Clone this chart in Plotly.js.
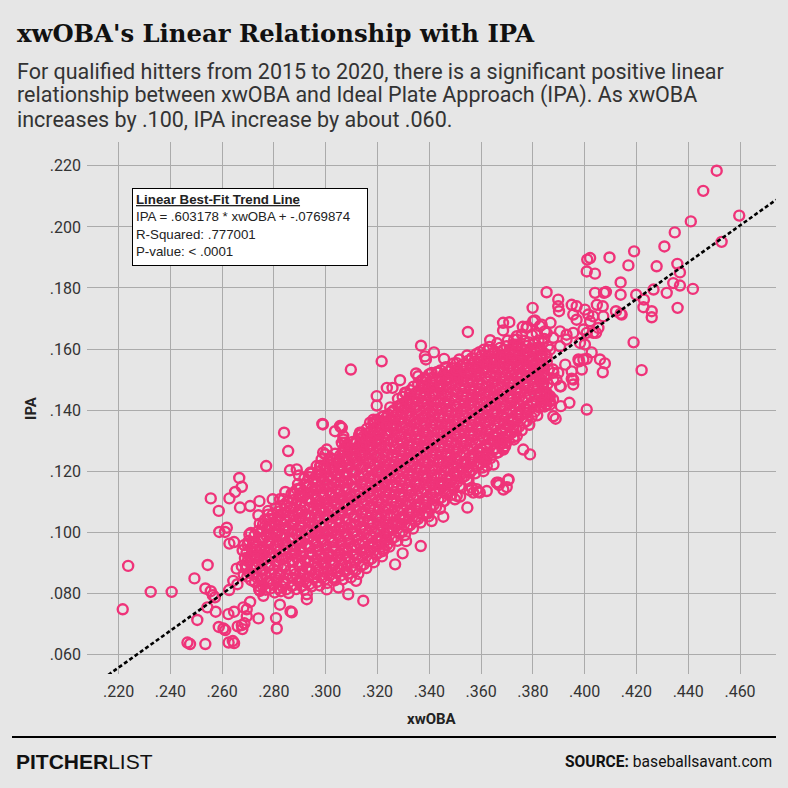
<!DOCTYPE html>
<html><head><meta charset="utf-8">
<script src="https://cdn.plot.ly/plotly-3.0.1.min.js"></script>
<style>html,body{margin:0;padding:0;background:#e6e6e6;}#chart{width:788px;height:788px;}</style>
</head><body><div id="chart"></div>
<script>
const titleText = "xwOBA's Linear Relationship with IPA";
const subtitleLines = [
  "For qualified hitters from 2015 to 2020, there is a significant positive linear",
  "relationship between xwOBA and Ideal Plate Approach (IPA). As xwOBA",
  "increases by .100, IPA increase by about .060."
];
const xTicks = [.22,.24,.26,.28,.30,.32,.34,.36,.38,.40,.42,.44,.46];
const yTicks = [.06,.08,.10,.12,.14,.16,.18,.20,.22];
const xRange = [.2078,.4739];
const yRange = [.0536,.2278];
const fitSlope = .603178;
const fitIntercept = -.0769874;
const boxLines = ["IPA = .603178 * xwOBA + -.0769874","R-Squared: .777001","P-value: &lt; .0001"];

// [xwOBA, IPA] per hitter-season (outer points)
const hitters = [
[.2237,.0890],[.2216,.0748],[.2324,.0805],[.2405,.0805],[.2493,.0849],[.2544,.0893],[.2535,.0816],[.2556,.0807],[.2564,.0794],[.2572,.0787],
[.2543,.0754],[.2575,.0740],[.2504,.0713],[.2466,.0639],[.2476,.0634],[.2535,.0634],[.2587,.0690],[.2605,.0685],[.2612,.0680],[.2625,.0639],
[.2641,.0644],[.2646,.0637],[.2624,.0732],[.2646,.0740],[.2660,.0692],[.2676,.0696],[.2686,.0702],[.2678,.0683],[.2682,.0754],[.2695,.0748],
[.2708,.0772],[.2695,.0725],[.2740,.0718],[.2808,.0719],[.2811,.0685],[.2864,.0741],[.2823,.0763],[.2656,.0881],[.2691,.0892],[.2643,.0841],
[.2659,.0830],[.2627,.0811],[.2589,.1001],[.2611,.1001],[.2618,.1015],[.2628,.0963],[.2646,.0968],[.2705,.0993],[.2720,.0964],[.2724,.0922],
[.2743,.0813],[.2746,.0808],[.2927,.0797],[.2927,.0781],[.2556,.1111],[.2587,.1070],[.2628,.1111],[.2650,.1132],[.2666,.1178],[.2676,.1149],
[.2669,.1081],[.2708,.1086],[.2744,.1102],[.2778,.1070],[.2795,.1108],[.2740,.1056],[.2770,.1217],[.2839,.1326],[.2855,.1266],[.2844,.1132],
[.2862,.1203],[.2888,.1206],[.2897,.1186],[.2987,.1355],[.3036,.1331],[.3059,.1344],[.3068,.1304],[.3197,.1415],[.2731,.0966],[.3145,.0776],
[.3087,.0797],[.3229,.0971],[.3222,.0939],[.3268,.0895],[.3117,.0841],[.3049,.0819],[.3004,.0813],[.2869,.0738],[.3097,.1533],[.3216,.1560],
[.3549,.1656],[.3368,.1611],[.3383,.1576],[.3418,.1589],[.3457,.1568],[.3635,.1629],[.3685,.1686],[.3709,.1688],[.3685,.1661],[.3799,.1735],
[.3853,.1786],[.3761,.1673],[.3778,.1673],[.3801,.1691],[.3827,.1675],[.3846,.1658],[.3868,.1686],[.3197,.1446],[.3258,.1473],[.3287,.1498],
[.3349,.1520],[.3388,.1500],[.3409,.1522],[.3480,.1506],[.3499,.1511],[.3521,.1517],[.3551,.1520],[.3622,.1560],[.3650,.1566],[.3673,.1566],
[.3699,.1582],[.3725,.1615],[.3738,.1631],[.3725,.1566],[.3757,.1566],[.3776,.1544],[.3794,.1560],[.3813,.1527],[.3839,.1489],[.3853,.1451],
[.3866,.1418],[.3827,.1413],[.3866,.1446],[.3879,.1380],[.3725,.1337],[.3738,.1315],[.3763,.1271],[.3789,.1255],[.3673,.1304],[.3693,.1282],
[.3686,.1271],[.3622,.1217],[.3648,.1222],[.3609,.1200],[.3667,.1162],[.3706,.1173],[.3583,.1141],[.3622,.1135],[.3570,.1130],[.3506,.1119],
[.3564,.1146],[.3609,.1239],[.3583,.1217],[.3564,.1239],[.3506,.1239],[.3467,.1228],[.3493,.1195],[.3055,.1348],[.3068,.1315],[.3062,.1293],
[.4010,.1893],[.4021,.1898],[.4008,.1854],[.4040,.1847],[.3898,.1762],[.3898,.1740],[.3901,.1724],[.3950,.1745],[.3969,.1740],[.3956,.1713],
[.3969,.1696],[.4001,.1729],[.4014,.1713],[.4033,.1707],[.4021,.1691],[.4040,.1784],[.4047,.1745],[.3738,.1642],[.3776,.1669],[.3808,.1694],
[.3834,.1680],[.3853,.1653],[.3879,.1637],[.3905,.1658],[.3930,.1647],[.3956,.1653],[.3995,.1664],[.4033,.1653],[.3982,.1620],[.4510,.2184],
[.4458,.2118],[.4597,.2037],[.4410,.2018],[.4529,.1951],[.4348,.1982],[.4308,.1936],[.4191,.1920],[.4096,.1900],[.4169,.1874],[.4278,.1871],
[.4358,.1879],[.4368,.1851],[.4139,.1818],[.4266,.1795],[.4317,.1784],[.4342,.1816],[.4368,.1808],[.4418,.1797],[.4359,.1735],[.4199,.1778],
[.4229,.1762],[.4227,.1737],[.4259,.1724],[.4259,.1704],[.4139,.1778],[.4139,.1716],[.4075,.1784],[.4082,.1787],[.4070,.1740],[.4072,.1707],
[.4121,.1724],[.4143,.1713],[.4053,.1669],[.4189,.1622],[.4220,.1531],[.4001,.1615],[.4027,.1589],[.4059,.1566],[.4078,.1553],[.4070,.1524],
[.3950,.1527],[.3956,.1500],[.3989,.1533],[.3976,.1566],[.3995,.1566],[.3930,.1631],[.3905,.1609],[.3866,.1598],[.3840,.1544],[.3879,.1522],
[.3905,.1478],[.3297,.0931],[.3310,.0971],[.3367,.0955],[.3233,.0975],[.3409,.1037],[.3454,.1051],[.3547,.1081],[.3499,.1108],[.3519,.1117],
[.3525,.1146],[.3555,.1138],[.3587,.1132],[.3551,.1168],[.3557,.1195],[.3669,.1155],[.3699,.1148],[.3705,.1171],[.3619,.1236],[.3686,.1277],
[.3673,.1291],[.3727,.1304],[.3325,.1026],[.3280,.1026],[.3242,.1015],[.3351,.1051],[.3396,.1062],[.3441,.1077],[.3460,.1135],[.3441,.1162],
[.3454,.1102],[.3506,.1184],[.3551,.1211],[.3596,.1244],[.3622,.1277],[.4008,.1402],[.3888,.1372],[.3941,.1424],[.3908,.1413],[.3853,.1418],
[.3860,.1440],[.3866,.1429],[.3908,.1478],[.3956,.1484],[.3950,.1503],[.3840,.1484],[.3879,.1500],[.4008,.1568],[.3979,.1560],[.4044,.1653],
[.4008,.1653],[.3925,.1549],[.3898,.1522],[.3860,.1533],[.3827,.1544],[.2989,.1353],[.3062,.1342],[.3075,.1293],[.2946,.1193],[.3004,.1271],
[.2998,.1255],[.3017,.1244],[.3087,.1277],[.3132,.1326],[.3171,.1359],[.3223,.1380],[.3236,.1473],[.3387,.1566],[.3428,.1524],[.3306,.1457],
[.3325,.1451],[.3312,.1424],[.3280,.1413],[.3293,.1408],[.3241,.1386],[.3184,.1359],[.3139,.1326],[.3357,.1511],[.3370,.1478],[.3396,.1468],
[.3441,.1478],[.3467,.1500],[.3583,.1527],[.3608,.1538],[.3647,.1555],[.3724,.1593],[.3827,.1604],[.3853,.1576],[.3878,.1533],[.3891,.1500],
[.3827,.1500],[.3801,.1544],[.3776,.1587],[.3853,.1457],[.3878,.1435],[.3776,.1391],[.3750,.1413],[.3724,.1369],[.3699,.1315],[.3660,.1260],
[.3660,.1162],[.3686,.1140],[.3595,.1130],[.2990,.1261],[.2984,.1239],[.2965,.1217],[.2939,.1193],[.2952,.1173],[.2978,.1184],[.3016,.1206],
[.3042,.1228],[.3068,.1271],[.3119,.1293],[.3197,.1369],[.3235,.1348],[.3132,.1249],[.3171,.1271],[.3197,.1304],[.2900,.1141],[.2913,.1119],
[.2959,.1141],[.2965,.1108],[.2978,.1217],[.3029,.1239],[.3055,.1217],[.3081,.1239],[.3106,.1271],[.3132,.1282],[.3158,.1315],[.3184,.1326],
[.3209,.1359],[.3261,.1348],[.3184,.1369],[.2823,.1108],[.2849,.1086],[.2875,.1053],[.2823,.1053],[.2785,.1020],[.2766,.1020],[.2759,.0977],
[.2746,.0944],[.2734,.0922],[.2708,.0922],[.2695,.0890],[.2734,.0890],[.2753,.0846],[.2759,.0792]
];

// [xwOBA, IPA] estimates for the overlapping dense core (solid pink area)
const coreHitters = [
[.2683,.0862],[.2676,.0889],[.2688,.0915],[.2679,.0941],[.2685,.0958],
[.2712,.0843],[.2705,.0867],[.2718,.0895],[.2709,.0918],[.2714,.0947],[.2703,.0972],[.2711,.0998],
[.2741,.0824],[.2736,.0851],[.2747,.0876],[.2738,.0903],[.2744,.0925],[.2733,.0952],[.2748,.0979],[.2739,.1004],[.2745,.1028],
[.2768,.0812],[.2776,.0838],[.2765,.0861],[.2779,.0889],[.2771,.0914],[.2763,.0937],[.2777,.0966],[.2769,.0991],[.2774,.1013],[.2766,.1042],[.2778,.1058],
[.2803,.0803],[.2795,.0829],[.2808,.0852],[.2799,.0878],[.2806,.0905],[.2793,.0931],[.2804,.0954],[.2797,.0983],[.2809,.1006],[.2801,.1031],[.2794,.1057],[.2807,.1079],
[.2827,.0807],[.2836,.0834],[.2824,.0859],[.2838,.0886],[.2831,.0911],[.2822,.0938],[.2835,.0962],[.2828,.0987],[.2839,.1013],[.2826,.1036],[.2833,.1062],[.2825,.1085],[.2837,.1108],
[.2857,.0801],[.2866,.0825],[.2853,.0849],[.2864,.0876],[.2858,.0903],[.2869,.0928],[.2852,.0951],[.2861,.0979],[.2855,.1004],[.2867,.1027],[.2859,.1053],[.2863,.1081],[.2854,.1102],[.2868,.1127],
[.2886,.0814],[.2894,.0839],[.2883,.0863],[.2897,.0891],[.2888,.0917],[.2881,.0942],[.2895,.0966],[.2887,.0993],[.2898,.1018],[.2884,.1042],[.2892,.1067],[.2885,.1094],[.2896,.1117],[.2889,.1141],[.2893,.1158],
[.2917,.0812],[.2924,.0836],[.2913,.0861],[.2926,.0884],[.2919,.0909],[.2911,.0935],[.2923,.0961],[.2915,.0984],[.2928,.1009],[.2912,.1035],[.2921,.1058],[.2916,.1083],[.2927,.1109],[.2914,.1132],[.2922,.1156],[.2918,.1177],
[.2946,.0823],[.2955,.0848],[.2943,.0872],[.2957,.0898],[.2949,.0924],[.2941,.0949],[.2954,.0973],[.2947,.0998],[.2958,.1024],[.2944,.1049],[.2952,.1071],[.2945,.1097],[.2956,.1122],[.2948,.1146],[.2953,.1171],[.2942,.1196],
[.2977,.0826],[.2985,.0851],[.2973,.0877],[.2986,.0901],[.2979,.0927],[.2971,.0953],[.2984,.0978],[.2976,.1002],[.2988,.1027],[.2974,.1053],[.2982,.1076],[.2975,.1102],[.2987,.1128],[.2978,.1151],[.2983,.1177],[.2972,.1199],[.2981,.1218],
[.3006,.0834],[.3015,.0859],[.3003,.0884],[.3017,.0908],[.3009,.0932],[.3002,.0958],[.3014,.0983],[.3007,.1007],[.3018,.1031],[.3004,.1056],[.3012,.1082],[.3005,.1107],[.3016,.1131],[.3008,.1155],[.3013,.1181],[.3001,.1205],[.3011,.1232],
[.3037,.0843],[.3045,.0867],[.3033,.0893],[.3046,.0918],[.3039,.0941],[.3031,.0967],[.3044,.0992],[.3036,.1016],[.3048,.1041],[.3034,.1066],[.3042,.1091],[.3035,.1115],[.3047,.1139],[.3038,.1164],[.3043,.1188],[.3032,.1213],[.3041,.1238],[.3036,.1257],
[.3066,.0846],[.3075,.0871],[.3063,.0895],[.3077,.0921],[.3069,.0946],[.3061,.0971],[.3074,.0995],[.3067,.1019],[.3078,.1045],[.3064,.1071],[.3072,.1094],[.3065,.1119],[.3076,.1144],[.3068,.1168],[.3073,.1192],[.3062,.1217],[.3071,.1241],[.3066,.1264],[.3074,.1279],
[.3097,.0852],[.3105,.0878],[.3093,.0903],[.3106,.0927],[.3099,.0952],[.3091,.0977],[.3104,.1003],[.3096,.1027],[.3108,.1051],[.3094,.1076],[.3102,.1101],[.3095,.1125],[.3107,.1149],[.3098,.1174],[.3103,.1198],[.3092,.1223],[.3101,.1247],[.3096,.1271],[.3104,.1296],
[.3126,.0864],[.3135,.0889],[.3123,.0913],[.3137,.0938],[.3129,.0963],[.3121,.0988],[.3134,.1012],[.3127,.1037],[.3138,.1062],[.3124,.1086],[.3132,.1111],[.3125,.1136],[.3136,.1159],[.3128,.1184],[.3133,.1209],[.3122,.1233],[.3131,.1258],[.3126,.1282],[.3134,.1304],[.3129,.1318],
[.3157,.0883],[.3165,.0907],[.3153,.0932],[.3166,.0956],[.3159,.0981],[.3151,.1006],[.3164,.1031],[.3156,.1055],[.3168,.1079],[.3154,.1104],[.3162,.1128],[.3155,.1153],[.3167,.1177],[.3158,.1202],[.3163,.1227],[.3152,.1251],[.3161,.1276],[.3156,.1299],[.3164,.1323],[.3159,.1339],
[.3186,.0902],[.3195,.0927],[.3183,.0951],[.3197,.0976],[.3189,.1001],[.3181,.1025],[.3194,.1049],[.3187,.1074],[.3198,.1099],[.3184,.1123],[.3192,.1147],[.3185,.1172],[.3196,.1196],[.3188,.1221],[.3193,.1246],[.3182,.1269],[.3191,.1294],[.3186,.1318],[.3194,.1343],[.3189,.1361],
[.3217,.0921],[.3225,.0946],[.3213,.0971],[.3226,.0995],[.3219,.1019],[.3211,.1044],[.3224,.1069],[.3216,.1093],[.3228,.1117],[.3214,.1142],[.3222,.1167],[.3215,.1191],[.3227,.1215],[.3218,.1239],[.3223,.1264],[.3212,.1288],[.3221,.1312],[.3216,.1337],[.3224,.1362],[.3219,.1378],
[.3246,.0953],[.3255,.0978],[.3243,.1002],[.3257,.1027],[.3249,.1051],[.3241,.1076],[.3254,.1101],[.3247,.1125],[.3258,.1149],[.3244,.1173],[.3252,.1198],[.3245,.1222],[.3256,.1247],[.3248,.1271],[.3253,.1296],[.3242,.1319],[.3251,.1344],[.3246,.1368],[.3254,.1393],[.3249,.1409],
[.3277,.0972],[.3285,.0997],[.3273,.1021],[.3286,.1046],[.3279,.1071],[.3271,.1095],[.3284,.1119],[.3276,.1144],[.3288,.1169],[.3274,.1193],[.3282,.1217],[.3275,.1242],[.3287,.1266],[.3278,.1291],[.3283,.1315],[.3272,.1339],[.3281,.1364],[.3276,.1388],[.3284,.1413],[.3279,.1437],
[.3306,.0991],[.3315,.1016],[.3303,.1041],[.3317,.1065],[.3309,.1089],[.3301,.1114],[.3314,.1139],[.3307,.1163],[.3318,.1187],[.3304,.1212],[.3312,.1236],[.3305,.1261],[.3316,.1285],[.3308,.1309],[.3313,.1334],[.3302,.1358],[.3311,.1383],[.3306,.1407],[.3314,.1431],[.3309,.1456],
[.3337,.1012],[.3345,.1037],[.3333,.1061],[.3346,.1086],[.3339,.1111],[.3331,.1135],[.3344,.1159],[.3336,.1184],[.3348,.1208],[.3334,.1233],[.3342,.1257],[.3335,.1281],[.3347,.1306],[.3338,.1331],[.3343,.1355],[.3332,.1379],[.3341,.1404],[.3336,.1428],[.3344,.1453],[.3339,.1477],
[.3366,.1032],[.3375,.1057],[.3363,.1081],[.3377,.1106],[.3369,.1131],[.3361,.1155],[.3374,.1179],[.3367,.1204],[.3378,.1228],[.3364,.1253],[.3372,.1277],[.3365,.1302],[.3376,.1326],[.3368,.1351],[.3373,.1375],[.3362,.1399],[.3371,.1424],[.3366,.1448],[.3374,.1473],[.3369,.1497],
[.3397,.1052],[.3405,.1077],[.3393,.1101],[.3406,.1126],[.3399,.1151],[.3391,.1175],[.3404,.1199],[.3396,.1224],[.3408,.1248],[.3394,.1273],[.3402,.1297],[.3395,.1321],[.3407,.1346],[.3398,.1371],[.3403,.1395],[.3392,.1419],[.3401,.1444],[.3396,.1468],[.3404,.1493],[.3399,.1517],
[.3426,.1083],[.3435,.1107],[.3423,.1132],[.3437,.1156],[.3429,.1181],[.3421,.1205],[.3434,.1229],[.3427,.1254],[.3438,.1278],[.3424,.1303],[.3432,.1327],[.3425,.1352],[.3436,.1376],[.3428,.1401],[.3433,.1425],[.3422,.1449],[.3431,.1474],[.3426,.1498],[.3434,.1523],
[.3457,.1102],[.3465,.1127],[.3453,.1151],[.3466,.1176],[.3459,.1201],[.3451,.1225],[.3464,.1249],[.3456,.1274],[.3468,.1298],[.3454,.1323],[.3462,.1347],[.3455,.1372],[.3467,.1396],[.3458,.1421],[.3463,.1445],[.3452,.1469],[.3461,.1494],[.3456,.1518],[.3464,.1541],
[.3486,.1123],[.3495,.1147],[.3483,.1172],[.3497,.1196],[.3489,.1221],[.3481,.1245],[.3494,.1269],[.3487,.1294],[.3498,.1318],[.3484,.1343],[.3492,.1367],[.3485,.1392],[.3496,.1416],[.3488,.1441],[.3493,.1465],[.3482,.1489],[.3491,.1514],[.3486,.1538],[.3494,.1553],
[.3517,.1152],[.3525,.1177],[.3513,.1201],[.3526,.1226],[.3519,.1251],[.3511,.1275],[.3524,.1299],[.3516,.1324],[.3528,.1348],[.3514,.1373],[.3522,.1397],[.3515,.1422],[.3527,.1446],[.3518,.1471],[.3523,.1495],[.3512,.1519],[.3521,.1544],[.3516,.1566],
[.3546,.1172],[.3555,.1197],[.3543,.1221],[.3557,.1246],[.3549,.1271],[.3541,.1295],[.3554,.1319],[.3547,.1344],[.3558,.1368],[.3544,.1393],[.3552,.1417],[.3545,.1442],[.3556,.1466],[.3548,.1491],[.3553,.1515],[.3542,.1539],[.3551,.1562],[.3546,.1579],
[.3577,.1193],[.3585,.1217],[.3573,.1242],[.3586,.1266],[.3579,.1291],[.3571,.1315],[.3584,.1339],[.3576,.1364],[.3588,.1388],[.3574,.1413],[.3582,.1437],[.3575,.1462],[.3587,.1486],[.3578,.1511],[.3583,.1535],[.3572,.1559],[.3581,.1583],
[.3606,.1212],[.3615,.1237],[.3603,.1261],[.3617,.1286],[.3609,.1311],[.3601,.1335],[.3614,.1359],[.3607,.1384],[.3618,.1408],[.3604,.1433],[.3612,.1457],[.3605,.1482],[.3616,.1506],[.3608,.1531],[.3613,.1555],[.3602,.1579],[.3611,.1598],
[.3637,.1243],[.3645,.1267],[.3633,.1292],[.3646,.1316],[.3639,.1341],[.3631,.1365],[.3644,.1389],[.3636,.1414],[.3648,.1438],[.3634,.1463],[.3642,.1487],[.3635,.1512],[.3647,.1536],[.3638,.1561],[.3643,.1585],[.3632,.1607],
[.3666,.1262],[.3675,.1287],[.3663,.1311],[.3677,.1336],[.3669,.1361],[.3661,.1385],[.3674,.1409],[.3667,.1434],[.3678,.1458],[.3664,.1483],[.3672,.1507],[.3665,.1532],[.3676,.1556],[.3668,.1581],[.3673,.1604],[.3662,.1619],
[.3697,.1293],[.3705,.1317],[.3693,.1342],[.3706,.1366],[.3699,.1391],[.3691,.1415],[.3704,.1439],[.3696,.1464],[.3708,.1488],[.3694,.1513],[.3702,.1537],[.3695,.1562],[.3707,.1586],[.3698,.1609],[.3703,.1628],
[.3726,.1312],[.3735,.1337],[.3723,.1361],[.3737,.1386],[.3729,.1411],[.3721,.1435],[.3734,.1459],[.3727,.1484],[.3738,.1508],[.3724,.1533],[.3732,.1557],[.3725,.1582],[.3736,.1606],[.3728,.1631],
[.3757,.1334],[.3765,.1358],[.3753,.1383],[.3766,.1407],[.3759,.1432],[.3751,.1456],[.3764,.1481],[.3756,.1505],[.3768,.1529],[.3754,.1554],[.3762,.1578],[.3755,.1603],[.3767,.1627],[.3758,.1648],
[.3786,.1352],[.3795,.1377],[.3783,.1401],[.3797,.1426],[.3789,.1451],[.3781,.1475],[.3794,.1499],[.3787,.1524],[.3798,.1548],[.3784,.1573],[.3792,.1597],[.3785,.1622],[.3796,.1646],
[.3817,.1383],[.3825,.1408],[.3813,.1432],[.3826,.1457],[.3819,.1481],[.3811,.1506],[.3824,.1531],[.3816,.1555],[.3828,.1579],[.3814,.1604],[.3822,.1628],[.3815,.1652],
[.3846,.1412],[.3855,.1437],[.3843,.1461],[.3857,.1486],[.3849,.1511],[.3841,.1535],[.3854,.1559],[.3847,.1584],[.3858,.1608],[.3844,.1633],
[.2697,.0855],[.2692,.0881],[.2699,.0906],[.2694,.0932],[.2698,.0960],
[.2727,.0837],[.2722,.0863],[.2729,.0889],[.2724,.0914],[.2728,.0938],[.2721,.0965],[.2726,.0991],
[.2757,.0825],[.2752,.0850],[.2759,.0875],[.2754,.0901],[.2758,.0926],[.2751,.0951],[.2756,.0978],[.2753,.1002],[.2758,.1026],
[.2787,.0816],[.2782,.0840],[.2789,.0865],[.2784,.0892],[.2788,.0918],[.2781,.0943],[.2786,.0969],[.2783,.0994],[.2788,.1019],[.2784,.1044],
[.2817,.0817],[.2812,.0842],[.2819,.0866],[.2814,.0892],[.2818,.0918],[.2811,.0944],[.2816,.0969],[.2813,.0995],[.2818,.1020],[.2814,.1045],[.2817,.1068],
[.2847,.0813],[.2842,.0838],[.2849,.0862],[.2844,.0889],[.2848,.0916],[.2841,.0941],[.2846,.0966],[.2843,.0991],[.2848,.1016],[.2844,.1041],[.2847,.1066],[.2842,.1092],
[.2877,.0827],[.2872,.0851],[.2879,.0876],[.2874,.0903],[.2878,.0929],[.2871,.0954],[.2876,.0979],[.2873,.1005],[.2878,.1030],[.2874,.1054],[.2877,.1080],[.2872,.1105],[.2876,.1129],
[.2907,.0824],[.2902,.0849],[.2909,.0873],[.2904,.0897],[.2908,.0922],[.2901,.0948],[.2906,.0973],[.2903,.0997],[.2908,.1022],[.2904,.1047],[.2907,.1071],[.2902,.1096],[.2906,.1120],[.2903,.1145],
[.2937,.0830],[.2932,.0855],[.2939,.0879],[.2934,.0905],[.2938,.0931],[.2931,.0956],[.2936,.0981],[.2933,.1005],[.2938,.1031],[.2934,.1056],[.2937,.1080],[.2932,.1105],[.2936,.1129],[.2933,.1154],[.2937,.1180],
[.2967,.0838],[.2962,.0863],[.2969,.0888],[.2964,.0913],[.2968,.0939],[.2961,.0964],[.2966,.0990],[.2963,.1014],[.2968,.1040],[.2964,.1064],[.2967,.1089],[.2962,.1114],[.2966,.1139],[.2963,.1164],[.2967,.1189],
[.2997,.0846],[.2992,.0871],[.2999,.0895],[.2994,.0920],[.2998,.0945],[.2991,.0970],[.2996,.0995],[.2993,.1019],[.2998,.1044],[.2994,.1069],[.2997,.1094],[.2992,.1118],[.2996,.1143],[.2993,.1168],[.2997,.1193],[.2994,.1214],
[.3027,.0851],[.3022,.0876],[.3029,.0900],[.3024,.0925],[.3028,.0950],[.3021,.0975],[.3026,.1000],[.3023,.1024],[.3028,.1049],[.3024,.1074],[.3027,.1099],[.3022,.1123],[.3026,.1148],[.3023,.1172],[.3027,.1197],[.3024,.1222],
[.3057,.0858],[.3052,.0883],[.3059,.0908],[.3054,.0932],[.3058,.0958],[.3051,.0983],[.3056,.1007],[.3053,.1032],[.3058,.1057],[.3054,.1081],[.3057,.1106],[.3052,.1131],[.3056,.1155],[.3053,.1180],[.3057,.1204],[.3054,.1229],[.3056,.1252],
[.3087,.0865],[.3082,.0890],[.3089,.0915],[.3084,.0940],[.3088,.0964],[.3081,.0989],[.3086,.1014],[.3083,.1039],[.3088,.1064],[.3084,.1088],[.3087,.1113],[.3082,.1137],[.3086,.1162],[.3083,.1186],[.3087,.1211],[.3084,.1235],[.3086,.1259],[.3083,.1283],
[.3117,.0877],[.3112,.0901],[.3119,.0926],[.3114,.0951],[.3118,.0975],[.3111,.1000],[.3116,.1025],[.3113,.1049],[.3118,.1074],[.3114,.1099],[.3117,.1123],[.3112,.1148],[.3116,.1172],[.3113,.1196],[.3117,.1221],[.3114,.1245],[.3116,.1270],[.3113,.1294],
[.3147,.0895],[.3142,.0920],[.3149,.0945],[.3144,.0969],[.3148,.0994],[.3141,.1019],[.3146,.1043],[.3143,.1068],[.3148,.1093],[.3144,.1117],[.3147,.1141],[.3142,.1166],[.3146,.1190],[.3143,.1215],[.3147,.1239],[.3144,.1264],[.3146,.1288],[.3143,.1312],
[.3177,.0914],[.3172,.0939],[.3179,.0964],[.3174,.0988],[.3178,.1013],[.3171,.1037],[.3176,.1062],[.3173,.1087],[.3178,.1111],[.3174,.1136],[.3177,.1160],[.3172,.1184],[.3176,.1209],[.3173,.1233],[.3177,.1258],[.3174,.1282],[.3176,.1306],[.3173,.1331],
[.3207,.0934],[.3202,.0958],[.3209,.0983],[.3204,.1007],[.3208,.1032],[.3201,.1056],[.3206,.1081],[.3203,.1105],[.3208,.1130],[.3204,.1154],[.3207,.1179],[.3202,.1203],[.3206,.1228],[.3203,.1252],[.3207,.1276],[.3204,.1300],[.3206,.1325],[.3203,.1350],
[.3237,.0959],[.3232,.0984],[.3239,.1008],[.3234,.1033],[.3238,.1057],[.3231,.1082],[.3236,.1106],[.3233,.1131],[.3238,.1155],[.3234,.1180],[.3237,.1204],[.3232,.1229],[.3236,.1253],[.3233,.1278],[.3237,.1302],[.3234,.1326],[.3236,.1351],[.3233,.1375],
[.3267,.0985],[.3262,.1009],[.3269,.1034],[.3264,.1058],[.3268,.1083],[.3261,.1107],[.3266,.1132],[.3263,.1156],[.3268,.1181],[.3264,.1205],[.3267,.1230],[.3262,.1254],[.3266,.1279],[.3263,.1303],[.3267,.1327],[.3264,.1352],[.3266,.1376],[.3263,.1400],
[.3297,.1004],[.3292,.1028],[.3299,.1053],[.3294,.1077],[.3298,.1102],[.3291,.1126],[.3296,.1151],[.3293,.1175],[.3298,.1200],[.3294,.1224],[.3297,.1249],[.3292,.1273],[.3296,.1297],[.3293,.1322],[.3297,.1346],[.3294,.1371],[.3296,.1395],[.3293,.1420],[.3297,.1444],
[.3327,.1024],[.3322,.1049],[.3329,.1073],[.3324,.1098],[.3328,.1122],[.3321,.1147],[.3326,.1171],[.3323,.1196],[.3328,.1220],[.3324,.1245],[.3327,.1269],[.3322,.1294],[.3326,.1318],[.3323,.1343],[.3327,.1367],[.3324,.1392],[.3326,.1416],[.3323,.1441],[.3327,.1465],
[.3357,.1044],[.3352,.1069],[.3359,.1093],[.3354,.1118],[.3358,.1143],[.3351,.1167],[.3356,.1192],[.3353,.1216],[.3358,.1241],[.3354,.1265],[.3357,.1290],[.3352,.1314],[.3356,.1339],[.3353,.1363],[.3357,.1387],[.3354,.1412],[.3356,.1436],[.3353,.1461],[.3357,.1485],
[.3387,.1064],[.3382,.1089],[.3389,.1113],[.3384,.1138],[.3388,.1163],[.3381,.1187],[.3386,.1212],[.3383,.1236],[.3388,.1261],[.3384,.1285],[.3387,.1310],[.3382,.1334],[.3386,.1358],[.3383,.1383],[.3387,.1407],[.3384,.1432],[.3386,.1456],[.3383,.1481],[.3387,.1505],
[.3417,.1090],[.3412,.1114],[.3419,.1139],[.3414,.1163],[.3418,.1188],[.3411,.1212],[.3416,.1237],[.3413,.1261],[.3418,.1286],[.3414,.1310],[.3417,.1335],[.3412,.1359],[.3416,.1384],[.3413,.1408],[.3417,.1432],[.3414,.1457],[.3416,.1481],[.3413,.1506],
[.3447,.1114],[.3442,.1139],[.3449,.1163],[.3444,.1188],[.3448,.1213],[.3441,.1237],[.3446,.1262],[.3443,.1286],[.3448,.1311],[.3444,.1335],[.3447,.1360],[.3442,.1384],[.3446,.1408],[.3443,.1433],[.3447,.1457],[.3444,.1482],[.3446,.1506],[.3443,.1530],
[.3477,.1135],[.3472,.1159],[.3479,.1184],[.3474,.1208],[.3478,.1233],[.3471,.1257],[.3476,.1282],[.3473,.1306],[.3478,.1331],[.3474,.1355],[.3477,.1380],[.3472,.1404],[.3476,.1428],[.3473,.1453],[.3477,.1477],[.3474,.1502],[.3476,.1526],
[.3507,.1164],[.3502,.1189],[.3509,.1213],[.3504,.1238],[.3508,.1263],[.3501,.1287],[.3506,.1312],[.3503,.1336],[.3508,.1361],[.3504,.1385],[.3507,.1410],[.3502,.1434],[.3506,.1458],[.3503,.1483],[.3507,.1507],[.3504,.1531],[.3506,.1554],
[.3537,.1184],[.3532,.1209],[.3539,.1233],[.3534,.1258],[.3538,.1283],[.3531,.1307],[.3536,.1332],[.3533,.1356],[.3538,.1381],[.3534,.1405],[.3537,.1430],[.3532,.1454],[.3536,.1478],[.3533,.1503],[.3537,.1527],[.3534,.1551],
[.3567,.1205],[.3562,.1229],[.3569,.1254],[.3564,.1278],[.3568,.1303],[.3561,.1327],[.3566,.1352],[.3563,.1376],[.3568,.1401],[.3564,.1425],[.3567,.1450],[.3562,.1474],[.3566,.1498],[.3563,.1523],[.3567,.1547],[.3564,.1570],
[.3597,.1225],[.3592,.1249],[.3599,.1274],[.3594,.1298],[.3598,.1323],[.3591,.1347],[.3596,.1372],[.3593,.1396],[.3598,.1421],[.3594,.1445],[.3597,.1470],[.3592,.1494],[.3596,.1518],[.3593,.1543],[.3597,.1567],[.3594,.1590],
[.3627,.1255],[.3622,.1280],[.3629,.1304],[.3624,.1329],[.3628,.1353],[.3621,.1377],[.3626,.1402],[.3623,.1426],[.3628,.1451],[.3624,.1475],[.3627,.1500],[.3622,.1524],[.3626,.1549],[.3623,.1573],[.3627,.1596],
[.3657,.1275],[.3652,.1299],[.3659,.1324],[.3654,.1348],[.3658,.1373],[.3651,.1397],[.3656,.1422],[.3653,.1446],[.3658,.1471],[.3654,.1495],[.3657,.1520],[.3652,.1544],[.3656,.1569],[.3653,.1592],
[.3687,.1305],[.3682,.1329],[.3689,.1354],[.3684,.1378],[.3688,.1403],[.3681,.1427],[.3686,.1452],[.3683,.1476],[.3688,.1501],[.3684,.1525],[.3687,.1550],[.3682,.1574],[.3686,.1597],
[.3717,.1325],[.3712,.1349],[.3719,.1374],[.3714,.1398],[.3718,.1423],[.3711,.1447],[.3716,.1472],[.3713,.1496],[.3718,.1521],[.3714,.1545],[.3717,.1570],[.3712,.1594],
[.3747,.1346],[.3742,.1371],[.3749,.1395],[.3744,.1420],[.3748,.1444],[.3741,.1469],[.3746,.1493],[.3743,.1518],[.3748,.1542],[.3744,.1567],[.3747,.1591],[.3742,.1615],
[.3777,.1365],[.3772,.1390],[.3779,.1414],[.3774,.1439],[.3778,.1464],[.3771,.1488],[.3776,.1512],[.3773,.1537],[.3778,.1561],[.3774,.1586],[.3777,.1610],
[.3807,.1395],[.3802,.1420],[.3809,.1445],[.3804,.1469],[.3808,.1494],[.3801,.1518],[.3806,.1543],[.3803,.1567],[.3808,.1592],[.3804,.1616],
[.3837,.1425],[.3832,.1449],[.3839,.1474],[.3834,.1498],[.3838,.1523],[.3831,.1547],[.3836,.1572],[.3833,.1596],[.3838,.1620]
];

const pink = '#ef3379';
const fmt = v => v.toFixed(3).replace(/^0/, '');
const allPoints = hitters.concat(coreHitters);
const fitX = xRange.slice();
const fitY = fitX.map(v => fitSlope * v + fitIntercept);

const traces = [
  {type:'scatter', mode:'markers', x: allPoints.map(p=>p[0]), y: allPoints.map(p=>p[1]),
   marker:{symbol:'circle-open', size:10, color:pink, line:{width:2.4, color:pink}}, hoverinfo:'skip'},
  {type:'scatter', mode:'lines', x: fitX, y: fitY, line:{color:'#000', width:2.6, dash:'4px,2.5px'}, hoverinfo:'skip'}
];

const L = 87, R = 12, T = 142, B = 114, W = 788, H = 788;
const pw = W - L - R, ph = H - T - B;
const px = v => (v - L) / pw;
const py = v => (H - B - v) / ph;

const annotations = [
  {xref:'paper', yref:'paper', x:px(15), y:py(33), xanchor:'left', yanchor:'middle', showarrow:false,
   text:'<b>' + titleText + '</b>', font:{family:'DejaVu Serif', size:24.3, color:'#111'}},
  ...subtitleLines.map((t,i)=>({xref:'paper', yref:'paper', x:px(15), y:py(71 + i*24), xanchor:'left', yanchor:'middle', showarrow:false,
   text:t, font:{family:'Roboto', size:21.5, color:'#333'}})),
  {xref:'paper', yref:'paper', x:px(132), y:py(188), xanchor:'left', yanchor:'top', showarrow:false, align:'left',
   width:228, height:70, valign:'top',
   bgcolor:'#ffffff', bordercolor:'#000', borderwidth:1, borderpad:3,
   text:'<b><u>Linear Best-Fit Trend Line</u></b><br>' + boxLines.join('<br>'),
   font:{family:'Liberation Sans', size:13.3, color:'#222'}},
  {xref:'paper', yref:'paper', x:0.5, y:py(719), xanchor:'center', yanchor:'middle', showarrow:false,
   text:'<b>xwOBA</b>', font:{family:'Roboto', size:15, color:'#222'}},
  {xref:'paper', yref:'paper', x:px(31), y:0.5, xanchor:'center', yanchor:'middle', showarrow:false, textangle:-90,
   text:'<b>IPA</b>', font:{family:'Roboto', size:15, color:'#222'}},
  {xref:'paper', yref:'paper', x:px(14), y:py(762), xanchor:'left', yanchor:'middle', showarrow:false,
   text:'<b>PITCHER</b>LIST', font:{family:'Liberation Sans', size:21, color:'#111'}},
  {xref:'paper', yref:'paper', x:px(774), y:py(762), xanchor:'right', yanchor:'middle', showarrow:false,
   text:'<b>SOURCE:</b> baseballsavant.com', font:{family:'Roboto', size:15.6, color:'#111'}}
];

const axisCommon = {showgrid:true, gridcolor:'#ababab', gridwidth:1, zeroline:false, showline:false, ticks:'',
  tickfont:{family:'Roboto', size:16, color:'#333'}, fixedrange:true};

const layout = {
  width:W, height:H, margin:{l:L, r:R, t:T, b:B, pad:0},
  paper_bgcolor:'#e6e6e6', plot_bgcolor:'#e6e6e6', showlegend:false,
  xaxis: Object.assign({}, axisCommon, {range:xRange, tickmode:'array', tickvals:xTicks, ticktext:xTicks.map(fmt), ticklabelstandoff:6}),
  yaxis: Object.assign({}, axisCommon, {range:yRange, tickmode:'array', tickvals:yTicks, ticktext:yTicks.map(fmt), ticklabelstandoff:5}),
  shapes:[{type:'line', xref:'paper', yref:'paper', x0:px(12), x1:px(776), y0:py(737), y1:py(737), line:{color:'#000', width:2}}],
  annotations
};

Plotly.newPlot('chart', traces, layout, {staticPlot:true, displayModeBar:false});
</script>
</body></html>
